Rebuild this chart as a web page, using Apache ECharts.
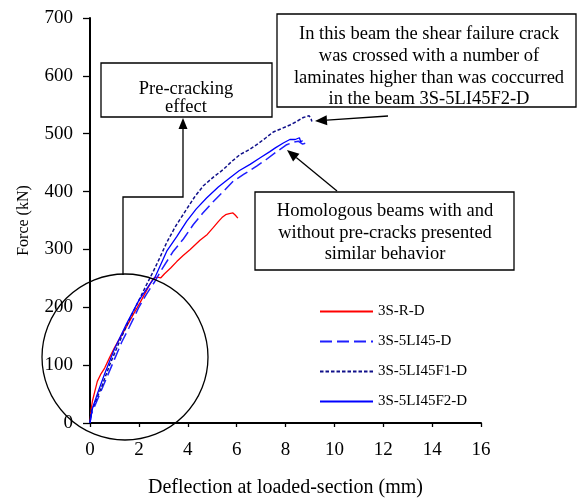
<!DOCTYPE html>
<html><head><meta charset="utf-8">
<script src="https://cdn.jsdelivr.net/npm/echarts@6/dist/echarts.min.js"></script>
<style>html,body{margin:0;padding:0;background:#fff}#c{width:578px;height:503px}</style>
</head><body><div id="c"></div>
<script>
const seriesNames = ['3S-R-D', '3S-5LI45-D', '3S-5LI45F1-D', '3S-5LI45F2-D'];
const xTicks = [0, 2, 4, 6, 8, 10, 12, 14, 16];
const yTicks = [0, 100, 200, 300, 400, 500, 600, 700];

const red_R = [[0,0],[0.05,25],[0.1,38],[0.2,55],[0.3,72],[0.45,85],[0.6,95],[0.8,113],[1.0,130],[1.2,145],[1.5,167],[1.8,190],[2.05,208],[2.3,228],[2.52,245],[2.6,250],[2.75,252],[2.9,251],[3.05,258],[3.3,268],[3.55,279],[3.8,289],[4.1,300],[4.5,316],[4.8,326],[5.05,338],[5.25,348],[5.4,355],[5.55,360],[5.7,362],[5.85,363],[5.95,359],[6.05,354]];
const blue_LI45 = [[0,0],[0.05,15],[0.2,30],[0.4,50],[0.7,80],[1.0,110],[1.3,140],[1.6,165],[2.0,200],[2.3,222],[2.66,245],[2.93,265],[3.41,297],[3.82,318],[4.23,343],[4.6,362],[5.05,383],[5.45,400],[5.86,418],[6.3,430],[6.82,444],[7.2,455],[7.64,469],[8.05,481],[8.3,485],[8.52,487],[8.7,482],[8.84,484]];
const navy_F1 = [[0,0],[0.05,20],[0.2,35],[0.5,65],[0.8,100],[1.2,140],[1.6,178],[2.0,212],[2.3,238],[2.59,262],[2.85,285],[3.14,312],[3.5,340],[3.96,370],[4.3,392],[4.64,410],[5.05,425],[5.45,438],[5.8,452],[6.14,464],[6.5,472],[6.82,481],[7.2,493],[7.5,503],[7.85,509],[8.18,515],[8.45,521],[8.73,528],[8.97,531],[9.05,525],[9.08,521]];
const blue_F2 = [[0,0],[0.1,25],[0.3,50],[0.6,85],[1.0,128],[1.5,172],[2.0,212],[2.45,240],[2.66,252],[3.14,297],[3.55,322],[3.96,349],[4.35,370],[4.77,389],[5.25,408],[5.73,424],[6.1,436],[6.55,447],[6.95,458],[7.36,469],[7.6,476],[7.91,484],[8.18,490],[8.4,490],[8.57,493],[8.62,486],[8.7,488]];

const serif = "'Liberation Serif','DejaVu Serif',serif";
const chart = echarts.init(document.getElementById('c'), null, {renderer: 'canvas'});

function arrowHead(tip, from, len, half) {
  const dx = tip[0] - from[0], dy = tip[1] - from[1];
  const d = Math.hypot(dx, dy), ux = dx / d, uy = dy / d;
  const bx = tip[0] - len * ux, by = tip[1] - len * uy;
  return {points: [tip, [bx - half * uy, by + half * ux], [bx + half * uy, by - half * ux]], base: [bx, by]};
}
function textLines(lines, cx, ys, size) {
  return lines.map((t, i) => ({type: 'text', x: cx, y: ys[i], z: 20, style: {text: t, fill: '#000', fontSize: size, fontFamily: serif, align: 'center', verticalAlign: 'middle'}}));
}
const a2 = arrowHead([315, 121], [388, 116], 12, 5);
const a3 = arrowHead([287, 150], [337, 191], 12, 5);
const a1 = arrowHead([183, 118], [183, 197], 11, 4.5);
const stroke = {stroke: '#000', lineWidth: 1.3, fill: null};

const graphic = [
  {type: 'circle', shape: {cx: 125, cy: 357, r: 83}, style: stroke, z: 10},
  {type: 'polyline', shape: {points: [[123, 275], [123, 197], [183, 197], a1.base]}, style: stroke, z: 10},
  {type: 'polygon', shape: {points: a1.points}, style: {fill: '#000'}, z: 10},
  {type: 'rect', shape: {x: 101, y: 63, width: 171, height: 54}, style: {stroke: '#000', lineWidth: 1.3, fill: '#fff'}, z: 10},
  ...textLines(['Pre-cracking', 'effect'], 186, [89, 107], 18.5),
  {type: 'line', shape: {x1: 388, y1: 116, x2: a2.base[0], y2: a2.base[1]}, style: stroke, z: 10},
  {type: 'polygon', shape: {points: a2.points}, style: {fill: '#000'}, z: 10},
  {type: 'rect', shape: {x: 277, y: 14, width: 299, height: 93}, style: {stroke: '#000', lineWidth: 1.3, fill: '#fff'}, z: 10},
  ...textLines(['In this beam the shear failure crack', 'was crossed with a number of', 'laminates higher than was coccurred', 'in the beam 3S-5LI45F2-D'], 429, [34, 56, 78, 99], 18.5),
  {type: 'line', shape: {x1: 337, y1: 191, x2: a3.base[0], y2: a3.base[1]}, style: stroke, z: 10},
  {type: 'polygon', shape: {points: a3.points}, style: {fill: '#000'}, z: 10},
  {type: 'rect', shape: {x: 255, y: 192, width: 259, height: 78}, style: {stroke: '#000', lineWidth: 1.3, fill: '#fff'}, z: 10},
  ...textLines(['Homologous beams with and', 'without pre-cracks presented', 'similar behavior'], 385, [211, 233, 254], 18.5)
];

const styles = [
  {color: '#ff0000', type: 'solid', width: 1.3},
  {color: '#1f1fff', type: [12, 5], width: 1.5},
  {color: '#10108a', type: [3.5, 2], width: 1.5},
  {color: '#0000ff', type: 'solid', width: 1.3}
];
const datas = [red_R, blue_LI45, navy_F1, blue_F2];

chart.setOption({
  animation: false,
  backgroundColor: '#fff',
  textStyle: {fontFamily: serif},
  grid: {left: 90, top: 18, width: 391, height: 406, containLabel: false},
  legend: {
    orient: 'vertical', left: 314, top: 299, itemWidth: 53, itemHeight: 14, itemGap: 15,
    data: seriesNames,
    itemStyle: {opacity: 0},
    textStyle: {fontFamily: serif, fontSize: 15, color: '#000'}
  },
  xAxis: {
    type: 'value', min: xTicks[0], max: xTicks[xTicks.length - 1], interval: 2,
    name: 'Deflection at loaded-section (mm)', nameLocation: 'middle', nameGap: 55,
    nameTextStyle: {fontFamily: serif, fontSize: 20, color: '#000'},
    axisLine: {onZero: false, lineStyle: {color: '#000', width: 2}},
    axisTick: {show: true, length: 4, lineStyle: {color: '#000', width: 1.3}},
    axisLabel: {fontFamily: serif, fontSize: 19, color: '#000', margin: 18},
    splitLine: {show: false}
  },
  yAxis: {
    type: 'value', min: yTicks[0], max: yTicks[yTicks.length - 1], interval: 100,
    name: 'Force (kN)', nameLocation: 'middle', nameGap: 58, nameRotate: 90,
    nameTextStyle: {fontFamily: serif, fontSize: 16, color: '#000'},
    axisLine: {show: true, onZero: false, lineStyle: {color: '#000', width: 2}},
    axisTick: {show: true, length: 7, lineStyle: {color: '#000', width: 1.3}},
    axisLabel: {fontFamily: serif, fontSize: 19, color: '#000', margin: 17},
    splitLine: {show: false}
  },
  series: seriesNames.map((n, i) => ({
    name: n, type: 'line', data: datas[i], showSymbol: false, symbol: 'none',
    lineStyle: styles[i], itemStyle: {color: styles[i].color}, z: 3
  })),
  graphic: graphic
});
</script></body></html>
